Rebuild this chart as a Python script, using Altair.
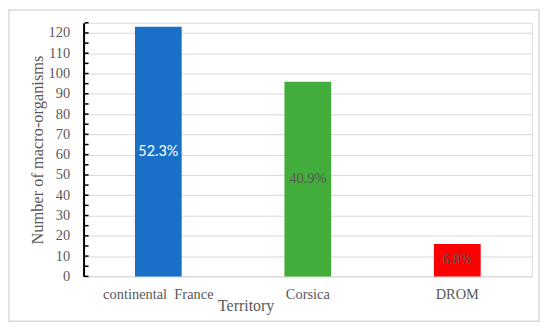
import altair as alt
import pandas as pd

territories = ["continental\u00a0 France", "Corsica", "DROM"]
counts = [123, 96, 16]
pct_labels = ["52.3%", "40.9%", "6.8%"]
bar_colors = ["#1a6fc7", "#43ad3b", "#fe0000"]
grid_values = list(range(0, 121, 10))
tick_values = list(range(0, 126, 5))

df = pd.DataFrame({"territory": territories, "count": counts, "pct": pct_labels,
                   "half": [c / 2 for c in counts]})
ticks_df = pd.DataFrame({"v": tick_values})
frame_df = pd.DataFrame({"a": [0]})

SERIF = "Liberation Serif"
GRAY = "#595959"

x_scale = alt.Scale(domain=territories, paddingInner=0, paddingOuter=0)
y_scale = alt.Scale(domain=[0, 125], nice=False)

x_axis = alt.Axis(title="Territory", labelAngle=0, labelFont=SERIF, labelFontSize=14.5,
                  labelColor=GRAY, labelPadding=11, tickSize=0, domain=False,
                  titleFont=SERIF, titleFontSize=16, titleColor=GRAY,
                  titleFontWeight="normal", titleX=163, titleY=21,
                  titleBaseline="top", titleAlign="center", titleAnchor="start")
y_axis = alt.Axis(title="Number of macro-organisms", values=grid_values, labelOverlap=False,
                  labelFont=SERIF, labelFontSize=14.5, labelColor=GRAY, labelPadding=14,
                  tickSize=0, domainColor="black", domainWidth=2,
                  grid=True, gridColor="#d9d9d9", gridWidth=1,
                  titleFont=SERIF, titleFontSize=16.5, titleColor=GRAY,
                  titleFontWeight="normal", titlePadding=3)

bars = alt.Chart(df).mark_bar(size=47).encode(
    x=alt.X("territory:N", sort=territories, scale=x_scale, axis=x_axis),
    y=alt.Y("count:Q", scale=y_scale, axis=y_axis),
    color=alt.Color("territory:N", scale=alt.Scale(domain=territories, range=bar_colors), legend=None),
)

ticks = alt.Chart(ticks_df).mark_rule(color="black", strokeWidth=1.5).encode(
    y=alt.Y("v:Q", scale=y_scale, axis=y_axis),
    x=alt.value(1),
    x2=alt.value(5),
)

lab_white = alt.Chart(df).transform_filter(alt.datum.territory == territories[0]).mark_text(
    font="Lato", fontSize=14.5, color="white").encode(
    x=alt.X("territory:N", sort=territories, scale=x_scale, axis=x_axis),
    y=alt.Y("half:Q", scale=y_scale, axis=y_axis),
    text="pct:N",
)
lab_gray = alt.Chart(df).transform_filter(alt.datum.territory != territories[0]).mark_text(
    font=SERIF, fontSize=14.5, color=GRAY).encode(
    x=alt.X("territory:N", sort=territories, scale=x_scale, axis=x_axis),
    y=alt.Y("half:Q", scale=y_scale, axis=y_axis),
    text="pct:N",
)

frame = alt.Chart(frame_df).mark_rect(fill=None, stroke="#d9d9d9", strokeWidth=1.5).encode(
    x=alt.value(-75), x2=alt.value(458), y=alt.value(-13), y2=alt.value(300),
)

chart = alt.layer(frame, bars, ticks, lab_white, lab_gray).properties(
    width=451, height=255,
    padding={"left": 76, "top": 14, "right": 10, "bottom": 48},
    autosize="none",
).configure_view(stroke=None).configure(background="white", font=SERIF)

chart.save("out.html", embed_options={"renderer": "svg", "actions": False})
